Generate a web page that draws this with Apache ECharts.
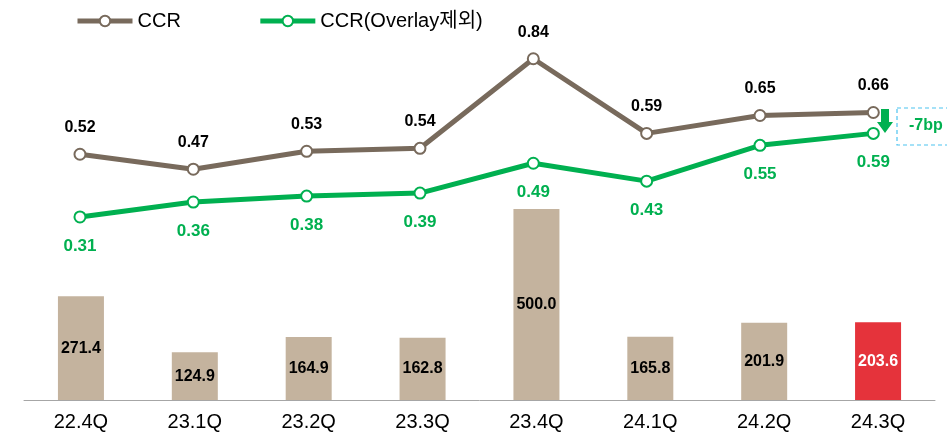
<!DOCTYPE html>
<html lang="ko">
  <head>
    <meta charset="UTF-8" />
    <title>CCR</title>
    <script src="https://cdn.jsdelivr.net/npm/echarts@6/dist/echarts.min.js"></script>
    <style>
      html, body { margin: 0; padding: 0; background: #fff; }
    </style>
  </head>
  <body>
    <div id="main" style="width: 947px; height: 432px"></div>
    <script type="text/javascript">
      // data
      let quarters = ["22.4Q", "23.1Q", "23.2Q", "23.3Q", "23.4Q", "24.1Q", "24.2Q", "24.3Q"];
      let ccr = [0.52, 0.47, 0.53, 0.54, 0.84, 0.59, 0.65, 0.66];
      let ccrExOverlay = [0.31, 0.36, 0.38, 0.39, 0.49, 0.43, 0.55, 0.59];
      let barValues = [271.4, 124.9, 164.9, 162.8, 500.0, 165.8, 201.9, 203.6];

      const font = "'Liberation Sans', Arial, 'Noto Sans CJK KR', sans-serif";
      const brown = "#786a5c";
      const green = "#00b050";
      const barColor = "#c4b39e";
      const red = "#e5333b";

      // last quarter is highlighted in red
      let barData = barValues.map((v, i) => {
        if (i === barValues.length - 1) {
          return { value: v, itemStyle: { color: red }, label: { color: "#fff" } };
        }
        return v;
      });

      let options = {
        animation: false,
        textStyle: { fontFamily: font },
        legend: {
          left: 70,
          top: 6,
          itemWidth: 55,
          itemHeight: 13,
          itemGap: 77,
          lineStyle: { width: 5 },
          itemStyle: { borderWidth: 2 },
          textStyle: { fontSize: 20, color: "#000", fontFamily: font },
          data: ["CCR", "CCR(Overlay제외)"],
        },
        // grid 0: bars + visible axis, grid 1: lines (slightly narrower, as in the source)
        grid: [
          { left: 24, right: 12, top: 14, bottom: 30 },
          { left: 23.3, right: 17, top: 14, bottom: 30 },
        ],
        xAxis: [
          {
            type: "category",
            gridIndex: 0,
            data: quarters,
            axisLine: { lineStyle: { color: "#a6a6a6", width: 1 } },
            axisTick: { inside: true, length: 4, lineStyle: { color: "#a6a6a6" } },
            axisLabel: { fontSize: 20, color: "#000", margin: 12, fontFamily: font },
          },
          { type: "category", gridIndex: 1, data: quarters, show: false },
        ],
        yAxis: [
          { type: "value", gridIndex: 0, min: 0, max: 1010, show: false, splitLine: { show: false } },
          { type: "value", gridIndex: 1, min: -0.31, max: 0.99, show: false, splitLine: { show: false } },
        ],
        series: [
          {
            name: "bar",
            type: "bar",
            xAxisIndex: 0,
            yAxisIndex: 0,
            barWidth: 46,
            itemStyle: { color: barColor },
            label: {
              show: true,
              position: "inside",
              fontSize: 16,
              fontWeight: "bold",
              color: "#000",
              formatter: (p) => p.value.toFixed(1),
            },
            data: barData,
            z: 1,
          },
          {
            name: "CCR",
            type: "line",
            xAxisIndex: 1,
            yAxisIndex: 1,
            data: ccr,
            symbol: "circle",
            symbolSize: 11,
            itemStyle: { color: "#fff", borderColor: brown, borderWidth: 2 },
            lineStyle: { color: brown, width: 5 },
            label: {
              show: true,
              position: "top",
              distance: 12,
              fontSize: 16,
              fontWeight: "bold",
              color: "#000",
              formatter: (p) => p.value.toFixed(2),
            },
            z: 3,
          },
          {
            name: "CCR(Overlay제외)",
            type: "line",
            xAxisIndex: 1,
            yAxisIndex: 1,
            data: ccrExOverlay,
            symbol: "circle",
            symbolSize: 11,
            itemStyle: { color: "#fff", borderColor: green, borderWidth: 2 },
            lineStyle: { color: green, width: 5 },
            label: {
              show: true,
              position: "bottom",
              distance: 14,
              fontSize: 17,
              fontWeight: "bold",
              color: green,
              formatter: (p) => p.value.toFixed(2),
            },
            z: 3,
          },
        ],
        // "-7bp" call-out next to the last quarter
        graphic: [
          {
            type: "rect",
            shape: { x: 897, y: 108, width: 60, height: 37 },
            style: { fill: "none", stroke: "#4cc3f0", lineWidth: 1.2, lineDash: [4, 3] },
          },
          {
            type: "text",
            left: 909,
            top: 118,
            style: { text: "-7bp", fill: green, font: "bold 16px " + font },
          },
          {
            type: "polygon",
            shape: {
              points: [[881, 109], [889, 109], [889, 122], [893, 122], [885, 133], [877, 122], [881, 122]],
            },
            style: { fill: green },
          },
        ],
      };

      let myChart = echarts.init(document.getElementById("main"));
      myChart.setOption(options);
    </script>
  </body>
</html>
